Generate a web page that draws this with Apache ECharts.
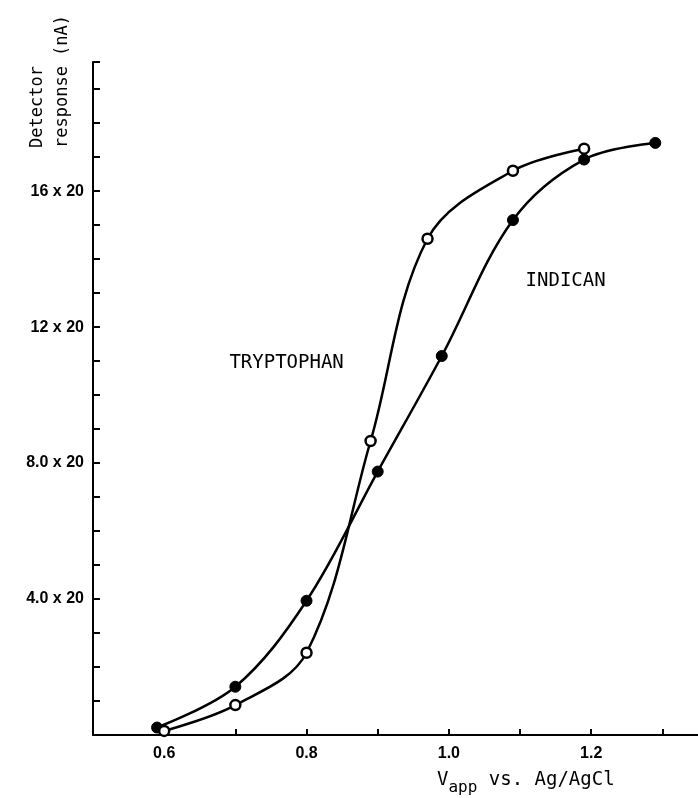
<!DOCTYPE html>
<html>
<head>
<meta charset="utf-8">
<script src="https://cdn.jsdelivr.net/npm/echarts@6/dist/echarts.min.js"></script>
<style>
html,body{margin:0;padding:0;background:#fff;}
#c{width:698px;height:798px;}
</style>
</head>
<body>
<div id="c"></div>
<script>
// Data
var tryptophanX = [0.60, 0.70, 0.80, 0.89, 0.97, 1.09, 1.19];
var tryptophanY = [0.12, 0.88, 2.42, 8.65, 14.6, 16.6, 17.25];
var indicanX = [0.59, 0.70, 0.80, 0.90, 0.99, 1.09, 1.19, 1.29];
var indicanY = [0.22, 1.42, 3.95, 7.75, 11.15, 15.15, 16.93, 17.42];
var yTickLabels = {4: '4.0 x 20', 8: '8.0 x 20', 12: '12 x 20', 16: '16 x 20'};
var xTickLabels = {6: '0.6', 8: '0.8', 10: '1.0', 12: '1.2'};
var seriesNames = ['TRYPTOPHAN', 'INDICAN'];
var seriesLabelPos = [[0.772, 10.94], [1.164, 13.35]];

function pairs(xs, ys) { return xs.map(function (x, i) { return [x, ys[i]]; }); }

var chart = echarts.init(document.getElementById('c'));
var mono = 'DejaVu Sans Mono';
function nameMark(i) {
  return {
    symbol: 'circle', symbolSize: 0,
    label: {show: true, position: 'inside', color: '#000', fontFamily: mono, fontSize: 19,
            formatter: function (p) { return p.name; }},
    data: [{name: seriesNames[i], coord: seriesLabelPos[i]}]
  };
}
chart.setOption({
  animation: false,
  backgroundColor: '#fff',
  grid: {left: 93, right: 0, top: 62, bottom: 63},
  xAxis: {
    type: 'value', min: 0.5, max: 1.35, interval: 0.1,
    splitLine: {show: false},
    axisLine: {show: true, lineStyle: {color: '#000', width: 2}},
    axisTick: {show: true, inside: true, length: 6, lineStyle: {color: '#000', width: 2}},
    axisLabel: {
      margin: 11, color: '#000', fontSize: 16, fontWeight: 'bold', fontFamily: 'Liberation Sans',
      showMinLabel: true, showMaxLabel: false,
      formatter: function (v) { var k = Math.round(v * 10); return xTickLabels[k] || ''; }
    }
  },
  yAxis: {
    type: 'value', min: 0, max: 19.8, interval: 1,
    splitLine: {show: false},
    axisLine: {show: true, lineStyle: {color: '#000', width: 2}},
    axisTick: {show: true, inside: true, length: 7, lineStyle: {color: '#000', width: 2}},
    axisLabel: {
      margin: 9, color: '#000', fontSize: 16, fontWeight: 'bold', fontFamily: 'Liberation Sans',
      formatter: function (v) { return yTickLabels[Math.round(v)] || ''; }
    }
  },
  series: [
    {
      name: seriesNames[0], type: 'line', smooth: 0.35,
      data: pairs(tryptophanX, tryptophanY),
      symbol: 'circle', symbolSize: 10,
      itemStyle: {color: '#fff', borderColor: '#000', borderWidth: 2.5},
      lineStyle: {color: '#000', width: 2.5},
      z: 3,
      markPoint: nameMark(0)
    },
    {
      name: seriesNames[1], type: 'line', smooth: 0.35,
      data: pairs(indicanX, indicanY),
      symbol: 'circle', symbolSize: 11,
      itemStyle: {color: '#000', borderColor: '#000', borderWidth: 1},
      lineStyle: {color: '#000', width: 2.5},
      z: 2,
      markPoint: nameMark(1)
    }
  ],
  graphic: [
    {
      type: 'text', x: 71, y: 148, rotation: Math.PI / 2,
      style: {text: 'response (nA)', font: '17px "DejaVu Sans Mono"', fill: '#000', textAlign: 'left', textVerticalAlign: 'bottom'}
    },
    {
      type: 'text', x: 46, y: 148, rotation: Math.PI / 2,
      style: {text: 'Detector', font: '17px "DejaVu Sans Mono"', fill: '#000', textAlign: 'left', textVerticalAlign: 'bottom'}
    },
    {
      type: 'text', x: 437, y: 765,
      style: {
        text: 'V{sub|app} vs. Ag/AgCl',
        font: '19px "DejaVu Sans Mono"', fill: '#000',
        rich: {sub: {font: '16px "DejaVu Sans Mono"', fill: '#000', padding: [15, 0, 0, 0]}}
      }
    }
  ]
});
</script>
</body>
</html>
